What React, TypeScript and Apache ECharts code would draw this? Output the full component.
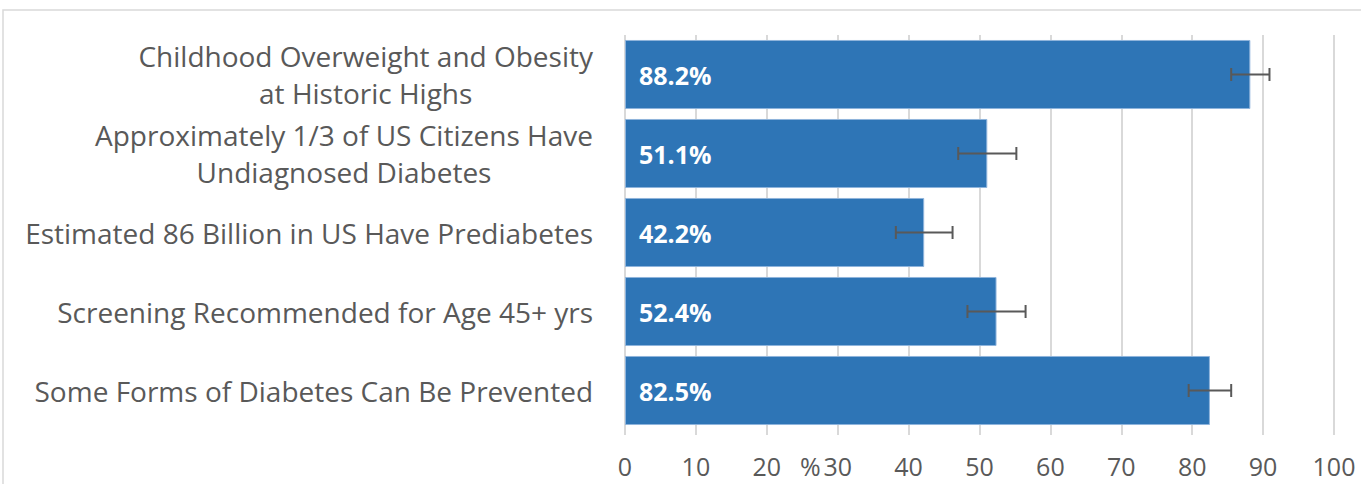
import React, { useEffect, useRef } from "react";
import * as echarts from "echarts";

const categories = [
  "Childhood Overweight and Obesity\nat Historic Highs",
  "Approximately 1/3 of US Citizens Have\nUndiagnosed Diabetes",
  "Estimated 86 Billion in US Have Prediabetes",
  "Screening Recommended for Age 45+ yrs",
  "Some Forms of Diabetes Can Be Prevented",
];
const values = [88.2, 51.1, 42.2, 52.4, 82.5];
const errors = [2.7, 4.1, 4.0, 4.1, 3.0];
const xTicks = { min: 0, max: 100, interval: 10 };
const axisUnit = "%";

export default function App() {
  const ref = useRef<HTMLDivElement>(null);
  useEffect(() => {
    document.body.style.margin = "0";
    const chart = echarts.init(ref.current!, null, { renderer: "svg" });
    const font = "'Open Sans', 'Noto Sans', sans-serif";
    chart.setOption({
      animation: false,
      backgroundColor: "#ffffff",
      textStyle: { fontFamily: font },
      grid: { left: 625, right: 27, top: 35, bottom: 54, containLabel: false },
      xAxis: {
        type: "value",
        min: xTicks.min,
        max: xTicks.max,
        interval: xTicks.interval,
        axisLine: { show: false },
        axisTick: { show: true, length: 5, lineStyle: { color: "#d9d9d9", width: 2 } },
        splitLine: { show: true, lineStyle: { color: "#d9d9d9", width: 2 } },
        axisLabel: {
          color: "#595959",
          fontSize: 25,
          lineHeight: 25,
          margin: 23,
          fontFamily: font,
        },
      },
      yAxis: {
        type: "category",
        data: categories,
        inverse: true,
        axisLine: { show: false },
        axisTick: { show: false },
        axisLabel: {
          color: "#595959",
          fontSize: 28,
          lineHeight: 37,
          margin: 32,
          align: "right",
          fontFamily: font,
          formatter: (v: string) =>
            v
              .split("\n")
              .map((l) => "{c|" + l + "}")
              .join("\n"),
          rich: {
            c: {
              align: "center",
              fontSize: 28,
              lineHeight: 37,
              color: "#595959",
              fontFamily: font,
            },
          },
        },
      },
      graphic: [
        {
          type: "rect",
          shape: { x: 3, y: 10, width: 1400, height: 500 },
          style: { fill: "none", stroke: "#d9d9d9", lineWidth: 1.5 },
          silent: true,
        },
        {
          type: "text",
          x: 800,
          y: 466,
          style: {
            text: axisUnit,
            fill: "#595959",
            font: `25px ${font}`,
            verticalAlign: "middle",
          },
        },
      ],
      series: [
        {
          type: "bar",
          data: values,
          barCategoryGap: "12.6%",
          itemStyle: { color: "#2e75b6", borderColor: "#8fb4dc", borderWidth: 1 },
          label: {
            show: true,
            position: "insideLeft",
            distance: 14,
            color: "#ffffff",
            fontWeight: "bold",
            fontSize: 25,
            fontFamily: font,
            formatter: (p: any) => p.value.toFixed(1) + "%",
          },
          z: 2,
        },
        {
          type: "custom",
          z: 5,
          data: values.map((v, i) => [i, v - errors[i], v + errors[i]]),
          renderItem: (params: any, api: any) => {
            const idx = api.value(0);
            const lo = api.coord([api.value(1), idx]);
            const hi = api.coord([api.value(2), idx]);
            const h = 6.5;
            const style = { stroke: "#595959", lineWidth: 2 };
            return {
              type: "group",
              children: [
                { type: "line", shape: { x1: lo[0], y1: lo[1], x2: hi[0], y2: hi[1] }, style },
                { type: "line", shape: { x1: lo[0], y1: lo[1] - h, x2: lo[0], y2: lo[1] + h }, style },
                { type: "line", shape: { x1: hi[0], y1: hi[1] - h, x2: hi[0], y2: hi[1] + h }, style },
              ],
            };
          },
        },
      ],
    });
    return () => chart.dispose();
  }, []);
  return <div ref={ref} style={{ width: 1361, height: 484 }} />;
}
